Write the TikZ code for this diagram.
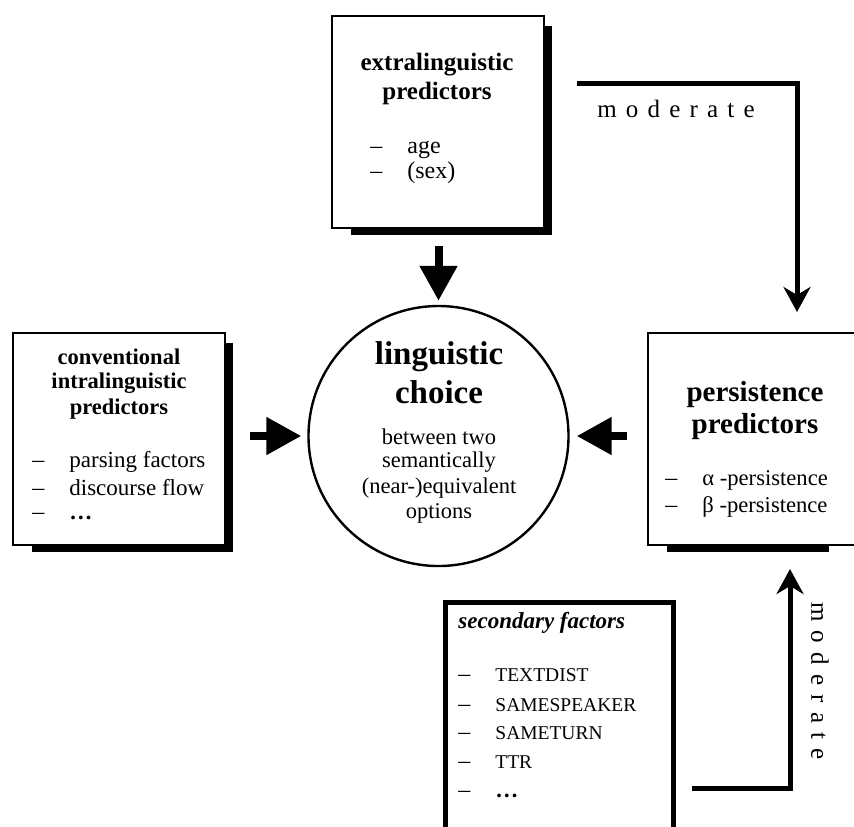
\documentclass[tikz,border=0pt]{standalone}
\usepackage{fontspec}
\setmainfont{Liberation Serif}
\usetikzlibrary{positioning,calc,arrows.meta}

\newcommand{\litem}[1]{\makebox[18.5pt][l]{\fontsize{12}{14}\selectfont--}#1}
\newcommand{\lsp}{\kern4.6pt}

\tikzset{
  frame/.style={draw, line width=1pt, inner sep=0pt, minimum width=106pt, minimum height=106pt},
  txt/.style={inner sep=0pt},
  item/.style={inner sep=0pt, anchor=west},
  bigarrow/.style={line width=4pt, -{Triangle[length=17.5pt,width=18pt]}},
  modarrow/.style={line width=2.5pt, -{Stealth[length=12.5pt,width=13.5pt,inset=4pt]}}
}

\begin{document}
\begin{tikzpicture}[x=0.5pt,y=-0.5pt]
\useasboundingbox (0,0) rectangle (854,826);
\clip (0,0) rectangle (854,826);

% boxes and circle
\node[frame] (extra) at (437.5,122) {};
\node[frame] (conv) at (119,439) {};
\node[frame, minimum width=107pt] (pers) at (755,439) {};
\node[circle, draw, line width=1.2pt, minimum size=130pt] (choice) at (438.5,436) {};
\node[draw, line width=2.5pt, inner sep=0pt, minimum width=114pt, minimum height=134pt] (sec) at (559,736) {};

% shadows
\fill ($(extra.south west)+(20,0)$) rectangle ($(extra.south east)+(7,6)$);
\fill ($(extra.north east)+(0,11)$) rectangle ($(extra.south east)+(7,6)$);
\fill ($(conv.south west)+(20,0)$) rectangle ($(conv.south east)+(7,6)$);
\fill ($(conv.north east)+(0,11)$) rectangle ($(conv.south east)+(7,6)$);
\fill ($(pers.south west)+(20,0)$) rectangle ($(pers.south west)+(182,6)$);

% extralinguistic
\node[txt, font=\fontsize{12.5}{14}\selectfont\bfseries] (extra-t1) at (437,65) {extralinguistic};
\node[txt, font=\fontsize{12.5}{14}\selectfont\bfseries] (extra-t2) at (437,93) {predictors};
\node[item, font=\fontsize{12}{14}\selectfont] (extra-i1) at (370,150) {\litem{age}};
\node[item, font=\fontsize{12}{14}\selectfont] (extra-i2) at (370,173) {\litem{(sex)}};

% conventional
\node[txt, font=\fontsize{11.25}{13}\selectfont\bfseries] (conv-t1) at (119,357) {conventional};
\node[txt, font=\fontsize{11.25}{13}\selectfont\bfseries] (conv-t2) at (119,383) {intralinguistic};
\node[txt, font=\fontsize{11.25}{13}\selectfont\bfseries] (conv-t3) at (119,409) {predictors};
\node[item, font=\fontsize{11.5}{13}\selectfont] (conv-i1) at (32,462) {\litem{parsing factors}};
\node[item, font=\fontsize{11.5}{13}\selectfont] (conv-i2) at (32,487) {\litem{discourse flow}};
\node[item, anchor=base west, font=\fontsize{11.5}{13}\selectfont] (conv-i3) at (32,519) {\litem{\textbf{\ldots}}};

% choice
\node[txt, font=\fontsize{16.5}{18}\selectfont\bfseries] (choice-t1) at (439,357) {linguistic};
\node[txt, font=\fontsize{16.5}{18}\selectfont\bfseries] (choice-t2) at (439,392) {choice};
\node[txt, font=\fontsize{11.25}{13}\selectfont] (choice-l1) at (439,437) {between two};
\node[txt, font=\fontsize{11.25}{13}\selectfont] (choice-l2) at (439,462) {semantically};
\node[txt, font=\fontsize{11.25}{13}\selectfont] (choice-l3) at (439,488) {(near-)equivalent};
\node[txt, font=\fontsize{11.25}{13}\selectfont] (choice-l4) at (439,513) {options};

% persistence
\node[txt, font=\fontsize{14.5}{16}\selectfont\bfseries] (pers-t1) at (755,395) {persistence};
\node[txt, font=\fontsize{14.5}{16}\selectfont\bfseries] (pers-t2) at (755,427) {predictors};
\node[item, font=\fontsize{11.3}{13}\selectfont] (pers-i1) at (665,480) {\litem{α -persistence}};
\node[item, font=\fontsize{11.3}{13}\selectfont] (pers-i2) at (665,507) {\litem{β -persistence}};

% secondary factors
\node[item, font=\fontsize{11.5}{13}\selectfont\bfseries\itshape] (sec-t) at (458,623) {secondary factors};
\node[item, font=\fontsize{9.75}{12}\selectfont] (sec-i1) at (458,675) {\litem{TEXTDIST}};
\node[item, font=\fontsize{9.75}{12}\selectfont] (sec-i2) at (458,705) {\litem{SAMESPEAKER}};
\node[item, font=\fontsize{9.75}{12}\selectfont] (sec-i3) at (458,733) {\litem{SAMETURN}};
\node[item, font=\fontsize{9.75}{12}\selectfont] (sec-i4) at (458,762) {\litem{TTR}};
\node[item, anchor=base west, font=\fontsize{11.5}{13}\selectfont] (sec-i5) at (458,797) {\litem{\textbf{\ldots}}};

% arrows into the choice
\draw[bigarrow, shorten <=8.5pt, shorten >=2pt] (choice.north |- extra.south) -- (choice.north);
\draw[bigarrow, shorten <=12pt, shorten >=3pt] (conv.east |- choice.west) -- (choice.west);
\draw[bigarrow, shorten <=10pt, shorten >=3.5pt] (pers.west |- choice.east) -- (choice.east);

% moderating paths
\coordinate (m1) at (577,83);
\coordinate (m1end) at (797,312);
\draw[modarrow] (m1) -| (m1end);
\node[txt, font=\fontsize{12.5}{14}\selectfont] (mod1) at (676,109) {m\lsp o\lsp d\lsp e\lsp r\lsp a\lsp t\lsp e};

\coordinate (m2) at (692,788);
\coordinate (m2end) at (790,569);
\draw[modarrow] (m2) -| (m2end);
\node[txt, rotate=-90, font=\fontsize{12.5}{14}\selectfont] (mod2) at (820,681) {m\lsp o\lsp d\lsp e\lsp r\lsp a\lsp t\lsp e};
\end{tikzpicture}
\end{document}
